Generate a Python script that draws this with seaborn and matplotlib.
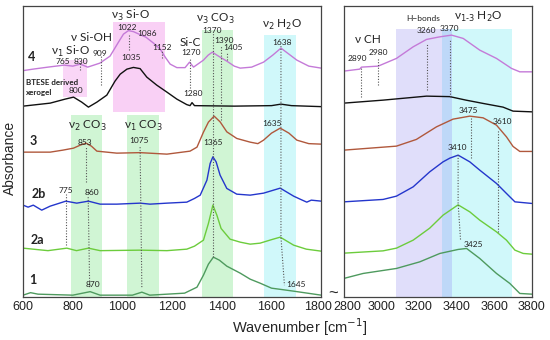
import matplotlib
matplotlib.use("Agg")
import matplotlib.pyplot as plt
import matplotlib.transforms as mtrans
import pandas as pd
import seaborn as sns

# spectra (wavenumber, offset absorbance in arbitrary units)
wn_4 = [600, 640, 700, 765, 800, 830, 860, 909, 950, 984, 1004, 1024, 1044, 1071, 1094, 1125,
        1152, 1172, 1192, 1219, 1252, 1270, 1286, 1326, 1345, 1362, 1380, 1393, 1420, 1450, 1474,
        1520, 1568, 1605, 1638, 1670, 1702, 1750, 1800,
        2800, 2885, 2894, 2983, 3080, 3169, 3240, 3311, 3373, 3435, 3523, 3612, 3692, 3736, 3800]
ab_4 = [226.5, 228, 230, 232, 231, 233, 230, 234, 241, 255, 263, 266.5, 265.5, 262.5, 260, 254,
        248, 240, 233, 229.5, 229.5, 235, 230, 237, 242, 245, 242, 240, 236, 231, 229,
        230, 235, 242, 249, 243, 237, 231, 229,
        226, 228, 230, 231, 238.7, 250.3, 257.7, 260.3, 262, 258.7, 247, 238.7, 228.7, 225.3, 225.3]

wn_btese = [600, 709, 769, 803, 836, 863, 897, 937, 970, 991, 1018, 1044, 1071, 1098, 1138, 1179,
            1219, 1259, 1272, 1280, 1290, 1450, 1600, 1638, 1680, 1800,
            2800, 3009, 3240, 3364, 3450, 3541, 3647, 3700, 3800]
ab_btese = [191, 194, 198, 200, 195, 190, 195, 202, 216, 223, 228, 229.7, 228.5, 220, 212, 205,
            198, 192.5, 191.5, 194.5, 191.5, 191, 191.5, 193, 191.5, 190.5,
            194, 197, 201, 200.5, 197, 193.7, 190, 186, 185.3]

wn_3 = [600, 709, 760, 803, 830, 853, 875, 897, 977, 1071, 1179, 1272, 1300, 1326, 1346, 1369,
        1393, 1420, 1460, 1514, 1545, 1568, 1600, 1635, 1670, 1702, 1750, 1800,
        2800, 3080, 3186, 3293, 3381, 3470, 3541, 3612, 3665, 3700, 3736, 3800]
ab_3 = [145, 145, 147, 149, 152, 154, 151, 146, 144, 144.5, 143, 146, 150, 165, 175, 181,
        175.3, 165.3, 158.7, 155, 153.5, 157, 164, 169, 164, 157, 153.5, 153,
        147, 151, 157.7, 170.3, 178, 181, 179.3, 172, 160.3, 150.7, 145.7, 145.7]

wn_2b = [600, 620, 641, 675, 709, 772, 816, 863, 910, 977, 1071, 1111, 1179, 1259, 1290, 1313,
         1340, 1353, 1364, 1377, 1393, 1420, 1460, 1514, 1568, 1635, 1689, 1715, 1742, 1760, 1800,
         2800, 3009, 3080, 3169, 3257, 3328, 3364, 3408, 3470, 3523, 3612, 3665, 3710, 3800]
ab_2b = [92, 90, 92, 87, 91, 96, 94, 96, 93, 93, 94, 93, 94, 95, 98.7, 102,
         117, 133.7, 140.3, 135.3, 122, 108.7, 103, 102, 104, 109, 101, 98, 95, 97, 96,
         95.3, 97.7, 101, 110.3, 125.3, 135.3, 139, 142, 135.3, 127, 113.7, 103.7, 95.3, 93.7]

wn_2a = [600, 700, 776, 815, 863, 910, 1071, 1179, 1259, 1290, 1326, 1346, 1364, 1380, 1397, 1433,
         1474, 1514, 1554, 1600, 1635, 1689, 1740, 1800,
         2800, 3009, 3080, 3169, 3257, 3328, 3408, 3470, 3523, 3612, 3665, 3710, 3754, 3800]
ab_2a = [49, 46.5, 49, 46.5, 49, 46.5, 47, 46.5, 48, 51, 57, 73.7, 92, 82, 68.7, 58,
         55, 53, 54, 57.5, 60, 52, 48, 46,
         44, 46.3, 49, 57, 69, 82, 92.3, 85.3, 77, 65.3, 57, 47, 43.7, 43]

wn_1 = [600, 630, 660, 800, 870, 910, 1040, 1078, 1110, 1250, 1300, 1326, 1346, 1366, 1390, 1420,
        1474, 1514, 1554, 1600, 1645, 1689, 1800,
        2800, 2903, 3080, 3204, 3311, 3408, 3453, 3523, 3612, 3683, 3736, 3800]
ab_1 = [2, 4.5, 3, 2, 5.5, 2, 2, 5, 2, 4, 10, 22, 33, 40, 37, 31,
        24, 18, 14, 9, 7.5, 6, 2,
        18.7, 23.7, 28.7, 35.3, 43.7, 47.7, 48.7, 38.7, 23.7, 13.7, 3.7, 3]

names = ["4", "BTESE", "3", "2b", "2a", "1"]
colors = ["#c47ad8", "#111111", "#b0583c", "#2436cc", "#6ccc3c", "#4e9a5e"]

frames = []
for nm, w, a in zip(names, [wn_4, wn_btese, wn_3, wn_2b, wn_2a, wn_1],
                    [ab_4, ab_btese, ab_3, ab_2b, ab_2a, ab_1]):
    frames.append(pd.DataFrame({"curve": nm, "wn": w, "ab": a}))
df = pd.concat(frames, ignore_index=True)

sns.set_style("white")
plt.rcParams["font.family"] = ["Liberation Sans", "DejaVu Sans"]

fig = plt.figure(figsize=(5.5, 3.4), dpi=100)
ax1 = fig.add_axes([0.042, 0.126, 0.542, 0.856])
ax2 = fig.add_axes([0.625, 0.126, 0.342, 0.856])

# shaded bands: (x0, x1, y0, y1, colour)
bands_left = [(762, 856, 200, 237, "#fad6f7"), (963, 1172, 185, 275, "#f9d0f5"),
              (793, 917, 0, 182, "#d0f5d4"), (1018, 1149, 0, 182, "#d0f5d4"),
              (1320, 1443, 0, 267, "#d0f5d4"), (1570, 1699, 0, 262, "#d0f8fa")]
bands_right = [(3080, 3320, 0, 268, "#e0defa"), (3320, 3373, 0, 268, "#bed8f8"),
               (3373, 3692, 0, 268, "#d0f8fa")]
for ax, bands in [(ax1, bands_left), (ax2, bands_right)]:
    for x0, x1, y0, y1, c in bands:
        ax.fill_between([x0, x1], y0, y1, color=c, lw=0, zorder=0)

for ax, lo, hi in [(ax1, 600, 1800), (ax2, 2800, 3800)]:
    sub = df[(df.wn >= lo) & (df.wn <= hi)]
    sns.lineplot(data=sub, x="wn", y="ab", hue="curve", palette=dict(zip(names, colors)),
                 hue_order=names, estimator=None, sort=False, lw=1.0, legend=False, ax=ax)
    for ln in ax.lines:
        ln.set_solid_joinstyle("round")
    ax.set_xlim(lo, hi)
    ax.set_ylim(0, 291)
    ax.set_yticks([])
    ax.set_xlabel("")
    ax.set_ylabel("")
    ax.tick_params(axis="x", labelsize=9, length=0, pad=3, labelcolor="#222222")
    for s in ax.spines.values():
        s.set_color("#444444")
        s.set_linewidth(0.9)

ax1.set_xticks([600, 800, 1000, 1200, 1400, 1600, 1800])
ax2.set_xticks([2800, 3000, 3200, 3400, 3600, 3800])

# nudge the two labels that meet at the axis break apart
ax1.get_xticklabels()[-1].set_transform(
    ax1.get_xticklabels()[-1].get_transform() + mtrans.ScaledTranslation(-3 / 100, 0, fig.dpi_scale_trans))
ax2.get_xticklabels()[0].set_transform(
    ax2.get_xticklabels()[0].get_transform() + mtrans.ScaledTranslation(3 / 100, 0, fig.dpi_scale_trans))

# dotted guide lines
dot = dict(color="#555555", lw=0.8, ls=(0, (1, 1.5)), zorder=3)
guides_left = [([830, 830], [227, 234]), ([914, 914], [212, 241]), ([1028, 1028], [247, 263]),
               ([1158, 1158], [239, 247]), ([1272, 1272], [209, 239]), ([1366, 1366], [40, 264]),
               ([1396, 1396], [177, 252]), ([1420, 1420], [237, 245]),
               ([1638, 1638, 1652], [251, 60, 12]), ([853, 853], [115, 150]),
               ([862, 868], [100, 10]), ([772, 772], [52, 103]), ([1071, 1078], [150, 9])]
guides_right = [([2894, 2894], [200, 229]), ([2983, 2983], [212, 239]), ([3241, 3241], [207, 254]),
                ([3367, 3367], [200, 257]), ([3476, 3476], [139, 180]),
                ([3408, 3408, 3421], [142, 94, 57]), ([3621, 3621], [65, 167])]
for ax, guides in [(ax1, guides_left), (ax2, guides_right)]:
    for xs, ys in guides:
        ax.plot(xs, ys, **dot)

lab = ["Lato", "DejaVu Sans"]
peak_left = [("765", 762, 236), ("830", 834, 236), ("909", 910, 244), ("1022", 1018, 270),
             ("1086", 1098, 263.7), ("1035", 1035, 239.7), ("1152", 1158, 249.3),
             ("1270", 1275, 244.7), ("1370", 1360, 266.3), ("1390", 1407, 256.3),
             ("1405", 1444, 249.7), ("1638", 1642, 254.7), ("800", 814, 206.3),
             ("1280", 1283, 203.7), ("853", 850, 154.3), ("1075", 1068, 157),
             ("1365", 1364, 154.3), ("1635", 1602, 173.7), ("775", 772, 107),
             ("860", 877, 104.7), ("870", 881, 12.7)]
peak_right = [("2890", 2873, 238.7), ("2980", 2983, 244.3), ("3260", 3240, 266.3),
              ("3370", 3364, 268.7), ("3475", 3461, 187), ("3610", 3644, 176),
              ("3410", 3405, 149.7)]
for ax, peaks in [(ax1, peak_left), (ax2, peak_right)]:
    for t, x, y in peaks:
        ax.text(x, y, t, fontsize=6, family=lab, ha="center", va="center", color="#222222", zorder=4)
ax1.text(1660, 12.7, "1645", fontsize=6, family=lab, ha="left", va="center", color="#222222")
ax2.text(3435, 52.7, "3425", fontsize=6, family=lab, ha="left", va="center", color="#222222")

groups_left = [("ν$_1$ Si-O", 789, 246), ("ν Si-OH", 877, 260), ("ν$_3$ Si-O", 1031, 282),
               ("Si-C", 1275, 254.7), ("ν$_3$ CO$_3$", 1373, 277.7), ("ν$_2$ H$_2$O", 1642, 272),
               ("ν$_2$ CO$_3$", 859, 171), ("ν$_1$ CO$_3$", 1085, 171)]
for t, x, y in groups_left:
    ax1.text(x, y, t, fontsize=8.5, family=lab, ha="center", va="center", color="#222222", zorder=4)
ax2.text(2929, 257.7, "ν CH", fontsize=8.5, family=lab, ha="center", va="center", color="#222222")
ax2.text(3514, 279.7, "ν$_{1\\text{-}3}$ H$_2$O", fontsize=8.5, family=lab, ha="center", va="center",
         color="#222222")
ax2.text(3222, 278.7, "H\u2212bonds", fontsize=6, family=lab, ha="center", va="center", color="#222222")

curve_labels = [("4", 636, 240), ("3", 640, 156), ("2b", 662, 102.7), ("2a", 658, 57), ("1", 638, 17)]
for t, x, y in curve_labels:
    ax1.text(x, y, t, fontsize=9, fontweight="bold", family=lab, ha="center", va="center", color="#222222")
ax1.text(612, 215, "BTESE derived", fontsize=5.8, fontweight="bold", family=lab,
         ha="left", va="center", color="#222222")
ax1.text(612, 205, "xerogel", fontsize=5.8, fontweight="bold", family=lab,
         ha="left", va="center", color="#222222")

fig.text(0.545, 0.038, "Wavenumber [cm$^{-1}$]", fontsize=10.5, ha="center", va="center")
fig.text(0.018, 0.535, "Absorbance", fontsize=10, rotation=90, ha="center", va="center")
fig.text(0.605, 0.135, "~", fontsize=12, ha="center", va="center")

fig.savefig("out.png", dpi=100)
